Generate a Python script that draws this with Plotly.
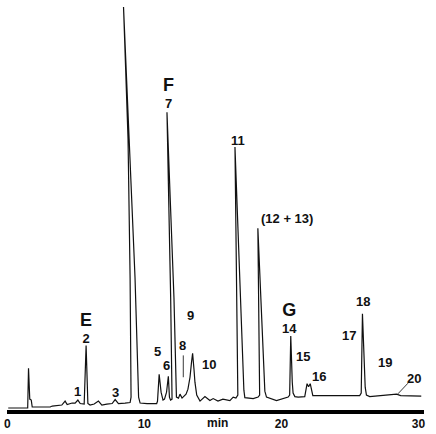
import plotly.graph_objects as go

# Chromatogram trace (time in min, detector signal in arbitrary units)
time_min = [0.07, 1.49, 1.55, 1.64, 1.75, 1.82, 3.13, 3.28, 3.98, 4.22, 4.37, 4.73, 4.95, 5.15, 5.32,
            5.61, 5.75, 5.88, 6.04, 6.34, 6.65, 6.90, 7.26, 7.65, 7.87, 8.11, 8.59, 8.96,
            9.03, 8.96, 8.81, 8.48, 8.89, 9.32, 9.58, 9.69, 10.20, 10.90,
            10.96, 11.08, 11.22, 11.36, 11.47, 11.62, 11.75, 11.83, 11.91,
            12.02, 11.92, 11.65, 12.16, 12.27, 12.34, 12.49, 12.60, 12.75, 12.89, 13.04,
            13.18, 13.33, 13.44, 13.52, 13.62, 13.69, 13.82, 14.06, 14.42, 14.78, 15.02, 15.37,
            15.73, 16.24, 16.48, 16.68, 16.82, 16.61, 17.26, 17.33, 17.94, 18.30,
            18.41, 18.28, 18.79, 18.91, 19.64, 20.12, 20.49,
            20.60, 20.68, 20.79, 20.85, 20.98, 21.22, 21.70, 21.87, 21.98, 22.10, 22.29, 22.56,
            24.25, 25.71, 25.82, 25.91, 26.11, 26.20, 26.44, 27.41, 28.13, 28.40, 28.70, 29.35, 30.20]
signal = [2, 2, 42, 11, 10, 3, 3, 4, 5, 9, 5.5, 7, 7, 10, 6.5,
          6, 65, 6.5, 5, 6, 9, 5, 6, 6.5, 10.5, 6.5, 7, 7.5,
          13, 133, 273, 406, 273, 133, 13, 7, 6.5, 6.5,
          9, 36, 18, 10, 11, 18, 34, 13, 10,
          11, 113, 300, 113, 28, 13, 12, 16, 12, 14, 16,
          21, 33, 48, 57, 41, 28, 15, 9, 13.5, 9.5, 11.5, 9,
          11, 9.5, 13, 12, 15, 265, 20, 12.5, 11.5, 13,
          15, 183, 19, 13, 9.5, 11.5, 13,
          15, 74.5, 28, 17, 13.5, 13, 13.5, 26.5, 23.5, 26.5, 14.5, 14.5,
          14.5, 14.5, 17, 97, 23, 15, 13.5, 14.5, 15.5, 16, 14.5, 14.5, 14]

# Leader lines for peaks 8 and 20 (None separates the two segments)
leader_time = [12.84, 12.84, None, 29.23, 28.50]
leader_signal = [55, 33, None, 27, 16.3]

# Marker compounds (letter above peak number)
group_letter = ["E", "F", "G"]
group_number = ["2", "7", "14"]
group_time = [5.73, 11.75, 20.56]
group_signal = [82.6, 319.6, 92.5]

# Other peak labels
label_text = ["1", "3", "5", "6", "8", "9", "10", "11", "(12 + 13)",
              "15", "16", "17", "18", "19", "20"]
label_time = [5.15, 7.87, 10.98, 11.63, 12.80, 13.38, 14.71, 16.85, 20.41,
              21.58, 22.74, 24.93, 25.95, 27.53, 29.64]
label_signal = [18.5, 18, 59, 44.5, 64.7, 94.7, 45.7, 271.3, 193,
                54, 33.7, 75.3, 109.7, 48, 31.3]

tick_vals = [0, 10, 20, 30]
tick_text = ["0", "10", "20", "30"]
axis_title = "min"
axis_title_time = 15.3

FONT = "Liberation Sans, Arial, sans-serif"

fig = go.Figure()
fig.add_trace(go.Scatter(x=time_min, y=signal, mode="lines",
                         line=dict(color="#111111", width=1.2), hoverinfo="skip", showlegend=False))
fig.add_trace(go.Scatter(x=leader_time, y=leader_signal, mode="lines",
                         line=dict(color="#222222", width=0.9), hoverinfo="skip", showlegend=False))

for letter, num, t, v in zip(group_letter, group_number, group_time, group_signal):
    fig.add_annotation(x=t, y=v, text=f"<span style='font-size:18px'>{letter}</span><br>{num}",
                       showarrow=False, xanchor="center", yanchor="middle", align="center",
                       font=dict(family=FONT, size=13, color="#111111", weight="bold"))

for txt, t, v in zip(label_text, label_time, label_signal):
    fig.add_annotation(x=t, y=v, text=txt, showarrow=False, xanchor="center", yanchor="middle",
                       font=dict(family=FONT, size=13, color="#111111", weight="bold"))

fig.add_annotation(x=axis_title_time, y=0, yref="paper", text=axis_title, showarrow=False,
                   xanchor="center", yanchor="top", yshift=-4,
                   font=dict(family=FONT, size=12, color="#111111", weight="bold"))

fig.update_layout(
    width=436, height=434,
    margin=dict(l=7, r=12, t=3, b=21),
    paper_bgcolor="white", plot_bgcolor="white",
    xaxis=dict(range=[-0.02, 30.4], showline=True, linewidth=4, linecolor="black",
               tickvals=tick_vals, ticktext=tick_text, ticks="", showgrid=False, zeroline=False,
               tickfont=dict(family=FONT, size=12, color="#111111", weight="bold")),
    yaxis=dict(range=[0, 410], visible=False, showgrid=False, zeroline=False),
)

fig.write_html("out.html", config={"displayModeBar": False, "staticPlot": True},
               post_script="document.body.style.margin='0';")
